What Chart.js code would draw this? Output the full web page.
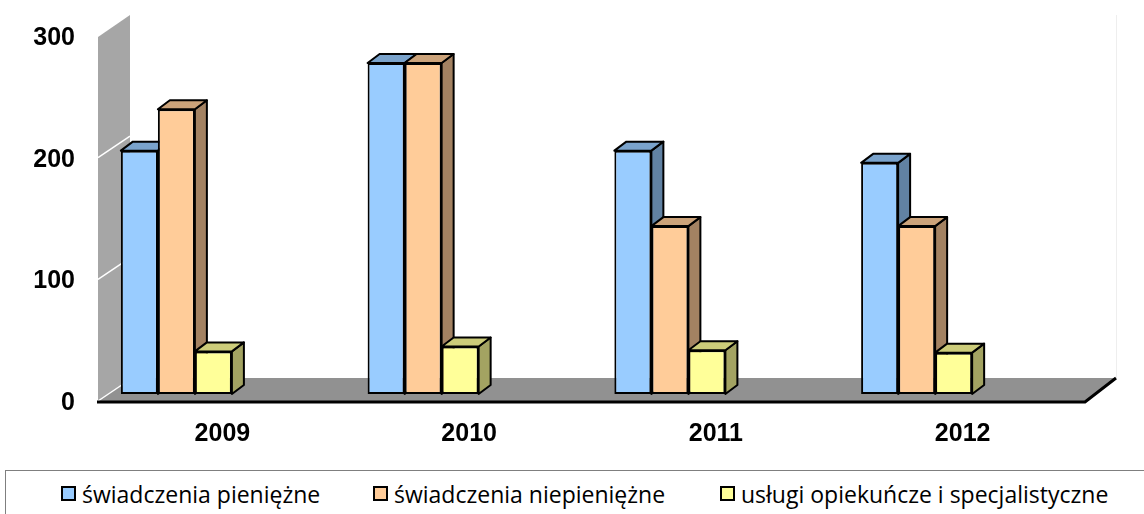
<!DOCTYPE html>
<html>
<head>
<meta charset="utf-8">
<script src="https://cdn.jsdelivr.net/npm/chart.js@4.4.0/dist/chart.umd.min.js"></script>
<style>
  html, body { margin: 0; padding: 0; background: #fff; overflow: hidden; }
  #wrap { position: relative; width: 1144px; height: 514px; }
  #chartBox { position: absolute; left: 0; top: 0; width: 1144px; height: 470px; }
  #legend { position: absolute; left: 5px; top: 470px; width: 1150px; height: 50px;
            border: 1px solid #7f7f7f; box-sizing: border-box;
            font-family: 'Open Sans', sans-serif; font-size: 23px; color: #000; }
  .item { position: absolute; top: 0; height: 45px; display: flex; align-items: center; white-space: nowrap; }
  .sw { width: 15px; height: 15px; border: 2px solid #000; box-sizing: border-box; margin-right: 6px; }
</style>
</head>
<body>
<div id="wrap">
  <div id="chartBox"><canvas id="chart"></canvas></div>
  <div id="legend"></div>
</div>
<script>
        // Dane
        const years = ['2009', '2010', '2011', '2012'];
        const seriesNames = ['świadczenia pieniężne', 'świadczenia niepieniężne', 'usługi opiekuńcze i specjalistyczne'];
        const pieniezne = [200, 272, 200, 190];
        const niepieniezne = [234, 272, 138, 138];
        const opiekuncze = [35, 39, 36, 34];
        const yTicks = [0, 100, 200, 300];

        // Kolory: przód, góra, bok
        const frontColors = ['#99ccff', '#ffcc99', '#ffff99'];
        const topColors = ['#7aa3cc', '#cca37a', '#cccc7a'];
        const sideColors = ['#6182a3', '#a38262', '#a3a362'];

        // przesunięcia "głębokości" (pseudo 3D)
        const barDepth = { dx: 12, dy: -9 };
        const plane = { dx: 44, dy: 8 };      // płaszczyzna podłogi / ściany względem słupków
        const wallDepth = { dx: 32, dy: -23 };

        function poly(ctx, pts, fill, stroke, lw) {
            ctx.beginPath();
            ctx.moveTo(pts[0][0], pts[0][1]);
            for (let i = 1; i < pts.length; i++) ctx.lineTo(pts[i][0], pts[i][1]);
            ctx.closePath();
            if (fill) { ctx.fillStyle = fill; ctx.fill(); }
            if (stroke) { ctx.strokeStyle = stroke; ctx.lineWidth = lw || 2; ctx.lineJoin = 'round'; ctx.stroke(); }
        }

        const bars3d = {
            id: 'bars3d',
            beforeDatasetsDraw(chart) {
                const { ctx, chartArea, scales: { x, y } } = chart;
                const y0 = y.getPixelForValue(0) + plane.dy;
                const yTop = y.getPixelForValue(yTicks[yTicks.length - 1]) + plane.dy;
                const fl = chartArea.left + plane.dx;
                const fr = chartArea.right + plane.dx + 1;
                ctx.save();

                // podłoga
                poly(ctx, [[fl, y0], [fr, y0], [fr + wallDepth.dx - 1, y0 + wallDepth.dy - 1],
                           [fl + wallDepth.dx + 1, y0 + wallDepth.dy - 1]], '#919191');

                // ściana
                poly(ctx, [[fl + 1, y0], [fl + 1, yTop], [fl + 1 + wallDepth.dx, yTop + wallDepth.dy + 1],
                           [fl + 1 + wallDepth.dx, y0 + wallDepth.dy - 1]], '#a6a6a6');

                // linie siatki na ścianie
                ctx.strokeStyle = '#ffffff';
                ctx.lineWidth = 1.5;
                yTicks.slice(0, -1).forEach(v => {
                    const p = y.getPixelForValue(v) + plane.dy;
                    ctx.beginPath();
                    ctx.moveTo(fl + 1, p - 1);
                    ctx.lineTo(fl + 1 + wallDepth.dx, p + wallDepth.dy + 0.5);
                    ctx.stroke();
                });

                // tylna krawędź
                ctx.strokeStyle = '#eeeeee';
                ctx.lineWidth = 1;
                ctx.beginPath();
                ctx.moveTo(fr + wallDepth.dx - 0.5, yTop + wallDepth.dy + 1);
                ctx.lineTo(fr + wallDepth.dx - 0.5, y0 + wallDepth.dy - 1);
                ctx.stroke();

                // przednia krawędź podłogi
                ctx.strokeStyle = '#000';
                ctx.lineWidth = 3;
                ctx.beginPath();
                ctx.moveTo(fl, y0);
                ctx.lineTo(fr, y0);
                ctx.lineTo(fr + wallDepth.dx - 1, y0 + wallDepth.dy - 1);
                ctx.stroke();

                // górne i boczne ściany słupków
                const dx = barDepth.dx, dy = barDepth.dy;
                for (let i = 0; i < years.length; i++) {
                    chart.data.datasets.forEach((ds, d) => {
                        const el = chart.getDatasetMeta(d).data[i];
                        const p = el.getProps(['x', 'y', 'base', 'width'], true);
                        const l = p.x - p.width / 2, r = p.x + p.width / 2;
                        poly(ctx, [[r, p.y], [r + dx, p.y + dy], [r + dx, p.base + dy], [r, p.base]],
                             sideColors[d], '#000', 2);
                        poly(ctx, [[l, p.y], [l + dx, p.y + dy], [r + dx, p.y + dy], [r, p.y]],
                             topColors[d], '#000', 2);
                    });
                }
                ctx.restore();
            },
            afterDraw(chart) {
                const { ctx, chartArea, scales: { x, y } } = chart;
                ctx.save();
                ctx.fillStyle = '#000';
                ctx.font = 'bold 25px "Liberation Sans", Arial, sans-serif';
                ctx.textBaseline = 'middle';
                ctx.textAlign = 'right';
                yTicks.forEach(v => {
                    ctx.fillText(String(v), chartArea.left + 22, y.getPixelForValue(v) + plane.dy + 1);
                });
                ctx.textAlign = 'center';
                years.forEach((yr, i) => {
                    ctx.fillText(yr, x.getPixelForValue(i) + plane.dx + 2, chartArea.bottom + 40);
                });
                ctx.restore();
            }
        };

        const ctx = document.getElementById('chart').getContext('2d');
        const chart = new Chart(ctx, {
            type: 'bar',
            data: {
                labels: years,
                datasets: [pieniezne, niepieniezne, opiekuncze].map((vals, d) => ({
                    label: seriesNames[d],
                    data: vals,
                    backgroundColor: frontColors[d],
                    borderColor: '#000',
                    borderWidth: 2,
                    borderSkipped: false,
                    categoryPercentage: 0.45,
                    barPercentage: 1.0
                }))
            },
            options: {
                responsive: true,
                maintainAspectRatio: false,
                animation: false,
                layout: { padding: { left: 53, right: 104, top: 29, bottom: 76 } },
                scales: {
                    x: { display: false },
                    y: { display: false, min: 0, max: 300 }
                },
                plugins: {
                    legend: { display: false },
                    tooltip: { enabled: false }
                }
            },
            plugins: [bars3d]
        });

        // Legenda
        const legendEl = document.getElementById('legend');
        const legendX = [55, 367, 714];
        seriesNames.forEach((name, d) => {
            const item = document.createElement('div');
            item.className = 'item';
            item.style.left = legendX[d] + 'px';
            const sw = document.createElement('span');
            sw.className = 'sw';
            sw.style.background = frontColors[d];
            const txt = document.createElement('span');
            txt.textContent = name;
            item.appendChild(sw);
            item.appendChild(txt);
            legendEl.appendChild(item);
        });
</script>
</body>
</html>
